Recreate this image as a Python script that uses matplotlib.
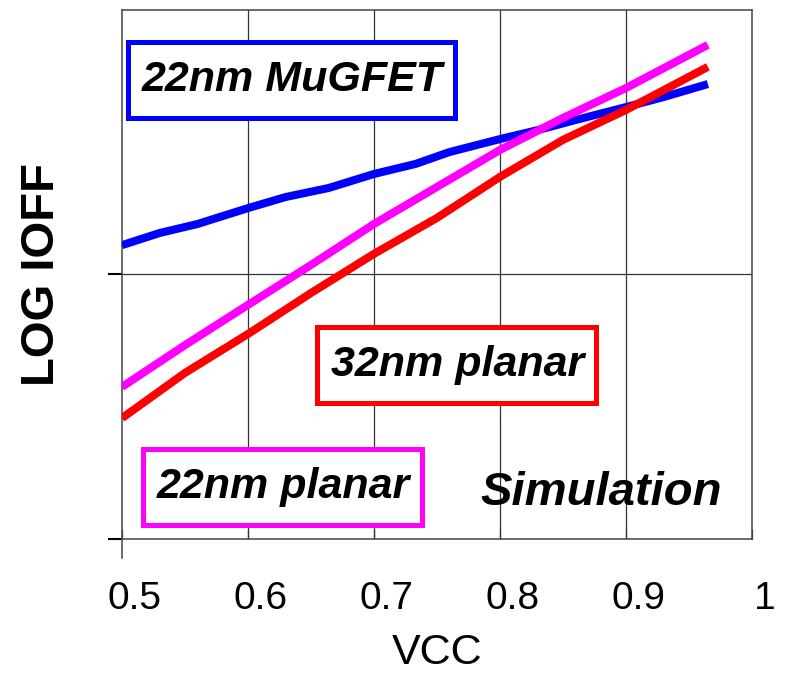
import matplotlib
matplotlib.use("Agg")
import matplotlib.pyplot as plt
import matplotlib.transforms as mtransforms
from matplotlib.patches import Rectangle

plt.rcParams["font.family"] = ["Liberation Sans", "DejaVu Sans"]

# Off-state leakage vs supply voltage (arbitrary log units)
vcc_mugfet = [0.5, 0.53, 0.56, 0.6, 0.63, 0.664, 0.7, 0.733, 0.76, 0.8, 0.83, 0.86, 0.9, 0.93, 0.965]
ioff_mugfet = [1.111, 1.157, 1.191, 1.251, 1.293, 1.327, 1.380, 1.418, 1.463, 1.512, 1.546, 1.584, 1.633, 1.671, 1.720]

vcc_planar = [0.5, 0.55, 0.6, 0.65, 0.7, 0.75, 0.8, 0.85, 0.9, 0.965]
ioff_22_planar = [0.575, 0.733, 0.885, 1.036, 1.191, 1.331, 1.471, 1.592, 1.705, 1.868]
ioff_32_planar = [0.457, 0.628, 0.775, 0.930, 1.078, 1.214, 1.369, 1.509, 1.622, 1.785]

x_ticks = [0.5, 0.6, 0.7, 0.8, 0.9, 1.0]
x_tick_labels = ["0.5", "0.6", "0.7", "0.8", "0.9", "1"]

fig = plt.figure(figsize=(7.88, 6.75), dpi=100)
ax = fig.add_axes([0.1548, 0.2015, 0.7995, 0.7837])

lw = 5.8
ax.plot(vcc_mugfet, ioff_mugfet, color="#0000FF", lw=lw, solid_capstyle="butt", zorder=3)
ax.plot(vcc_planar, ioff_22_planar, color="#FF00FF", lw=lw, solid_capstyle="butt", zorder=3)
ax.plot(vcc_planar, ioff_32_planar, color="#FF0000", lw=lw, solid_capstyle="butt", zorder=4)

ax.set_xlim(0.5, 1.0)
ax.set_ylim(0, 2)

# grid: verticals at each tick, single horizontal in the middle
for xv in x_ticks[1:-1]:
    ax.axvline(xv, color="#333333", lw=0.9, zorder=1)
ax.axhline(1.0, color="#333333", lw=0.9, zorder=1)

for side in ["top", "right", "left", "bottom"]:
    ax.spines[side].set_color("#444444")
    ax.spines[side].set_linewidth(1.1)
ax.spines["left"].set_bounds(-0.07, 2)

ax.set_xticks(x_ticks)
ax.set_xticklabels(x_tick_labels, fontsize=28)
ax.tick_params(axis="x", direction="in", length=7, width=0.9, pad=30, color="#333333")
ax.set_yticks([0, 1])
ax.set_yticklabels([])
ax.tick_params(axis="y", direction="out", length=10, width=1.5, color="black")

shift = mtransforms.ScaledTranslation(0.13, 0, fig.dpi_scale_trans)
for lab in ax.get_xticklabels():
    lab.set_transform(lab.get_transform() + shift)

ax.set_xlabel("VCC", fontsize=31, labelpad=12)
fig.text(42 / 788, 1 - 275 / 675, "LOG IOFF", rotation=90, fontsize=34,
         fontweight="bold", ha="center", va="center")

box_font = dict(fontsize=31, fontweight="bold", fontstyle="italic",
                ha="center", va="center", zorder=6)
boxed = [
    (0.635, 1.735, "22nm MuGFET", "#0000FF"),
    (0.766, 0.658, "32nm planar", "#FF0000"),
    (0.628, 0.197, "22nm planar", "#FF00FF"),
]
texts = [(ax.text(x, y, s, **box_font), c) for x, y, s, c in boxed]
ax.text(0.88, 0.172, "Simulation", fontsize=34, fontweight="bold", fontstyle="italic",
        ha="center", va="center", zorder=5)

# framed labels: rectangle around the text extent with extra vertical padding
fig.canvas.draw()
renderer = fig.canvas.get_renderer()
inv = ax.transAxes.inverted()
for t, c in texts:
    bb = t.get_window_extent(renderer)
    x0, y0 = bb.x0 - 14, bb.y0 - 18
    x1, y1 = bb.x1 + 12, bb.y1 + 18
    (ax0, ay0), (ax1, ay1) = inv.transform([(x0, y0), (x1, y1)])
    ax.add_patch(Rectangle((ax0, ay0), ax1 - ax0, ay1 - ay0, transform=ax.transAxes,
                           fc="white", ec=c, lw=3.6, zorder=5, clip_on=False))

fig.savefig("out.png", dpi=100)
